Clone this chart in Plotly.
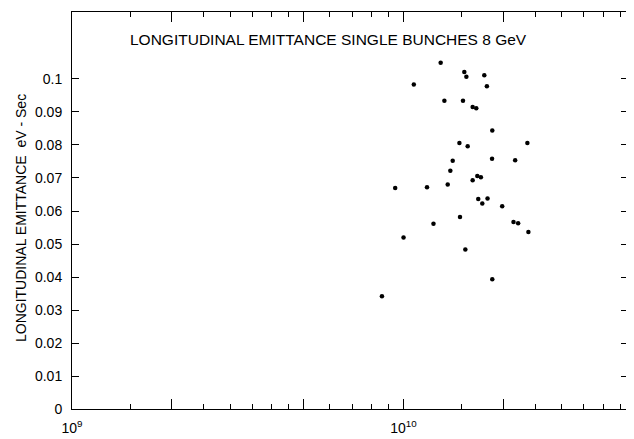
import plotly.graph_objects as go

# Data (bunch intensity, longitudinal emittance eV-sec)
intensity = [
    1.294e10, 1.525e10, 1.547e10, 1.752e10, 1.074e10, 1.784e10, 1.328e10, 1.511e10,
    1.616e10, 1.657e10, 1.852e10, 1.474e10, 1.561e10, 2.363e10, 1.407e10, 1.849e10,
    2.171e10, 1.384e10, 1.669e10, 1.711e10, 1.616e10, 9.437e9, 1.177e10, 1.359e10,
    1.680e10, 1.792e10, 1.728e10, 1.984e10, 1.480e10, 2.146e10, 2.216e10, 1.231e10,
    2.380e10, 1.000e10, 1.536e10, 1.852e10, 8.607e9,
]
emittance = [
    0.1049, 0.1021, 0.1007, 0.1011, 0.0983, 0.0978, 0.0934, 0.0934,
    0.0915, 0.0911, 0.0844, 0.0806, 0.0796, 0.0806, 0.0752, 0.0758,
    0.0754, 0.0722, 0.0706, 0.0702, 0.0693, 0.0670, 0.0672, 0.0680,
    0.0636, 0.0638, 0.0623, 0.0614, 0.0582, 0.0567, 0.0563, 0.0561,
    0.0536, 0.0520, 0.0483, 0.0393, 0.0342,
]

y_tickvals = [0, 0.01, 0.02, 0.03, 0.04, 0.05, 0.06, 0.07, 0.08, 0.09, 0.1]
y_ticktext = ["0", "0.01", "0.02", "0.03", "0.04", "0.05", "0.06", "0.07", "0.08", "0.09", "0.1"]
x_major_vals = [1e9, 2e9, 5e9, 1e10, 2e10]
x_major_text = ["10<sup>9</sup>", "", "", "10<sup>10</sup>", ""]
x_minor_vals = [1.5e9, 2.5e9, 3e9, 3.5e9, 4e9, 4.5e9, 6e9, 7e9, 8e9, 9e9,
                1.5e10, 2.5e10, 3e10, 3.5e10, 4e10, 4.5e10]

title_text = "LONGITUDINAL EMITTANCE SINGLE BUNCHES 8 GeV"
y_title = "LONGITUDINAL EMITTANCE  eV - Sec"

FONT = "Liberation Sans"

fig = go.Figure()
fig.add_trace(go.Scatter(
    x=intensity, y=emittance, mode="markers",
    marker=dict(color="black", size=4.5, line=dict(width=0)),
    showlegend=False,
))

fig.update_layout(
    width=626, height=431,
    margin=dict(l=64, r=6, t=4, b=30),
    paper_bgcolor="white", plot_bgcolor="white",
    font=dict(family=FONT, color="black", size=14),
    xaxis=dict(
        type="log", range=[9, 10.677], automargin=False,
        showgrid=False, zeroline=False,
        showline=True, linecolor="black", linewidth=1, mirror="ticks",
        ticks="inside", ticklen=10, tickwidth=1, tickcolor="black",
        tickmode="array", tickvals=x_major_vals, ticktext=x_major_text,
        tickfont=dict(family=FONT, size=14),
        ticklabelstandoff=6,
        minor=dict(tickmode="array", tickvals=x_minor_vals, ticks="inside",
                   ticklen=5, tickwidth=1, tickcolor="black", showgrid=False),
    ),
    yaxis=dict(
        range=[0, 0.1203], automargin=False,
        showgrid=False, zeroline=False,
        showline=True, linecolor="black", linewidth=1, mirror="ticks",
        ticks="inside", ticklen=7, tickwidth=1, tickcolor="black",
        tickmode="array", tickvals=y_tickvals, ticktext=y_ticktext,
        tickfont=dict(family=FONT, size=14),
        ticklabelstandoff=6,
    ),
    annotations=[
        dict(text=title_text, xref="paper", yref="paper",
             x=(128 - 72) / 556, y=(409 - 40) / 397,
             xanchor="left", yanchor="middle", showarrow=False,
             font=dict(family=FONT, size=15.5, color="black")),
        dict(text=y_title, xref="paper", yref="paper",
             x=(21 - 72) / 556, y=(409 - 218) / 397,
             xanchor="center", yanchor="middle", textangle=-90, showarrow=False,
             font=dict(family=FONT, size=14, color="black")),
    ],
)

fig.write_html("out.html")
